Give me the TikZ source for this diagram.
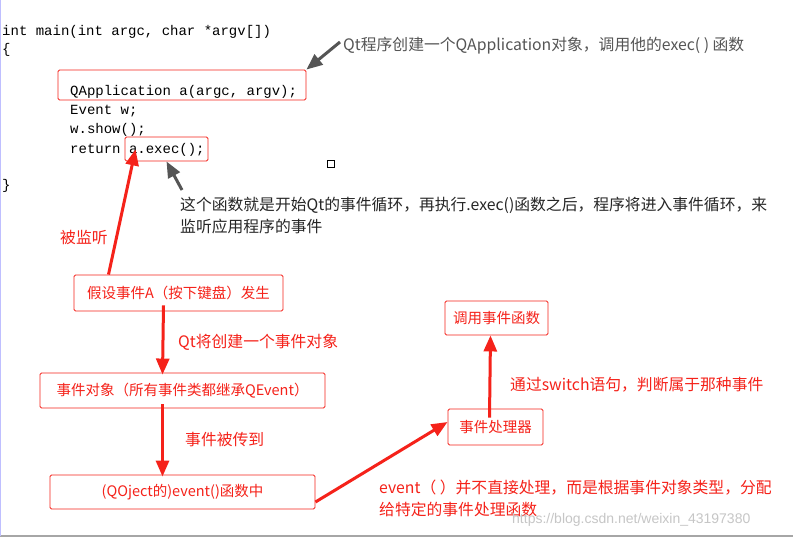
\documentclass[tikz,border=0pt]{standalone}
\usepackage{fontspec}
\setmainfont{Liberation Sans}
\setmonofont{Liberation Mono}
\newfontfamily\cjk{Noto Sans CJK SC}
\usetikzlibrary{arrows.meta}
\definecolor{rd}{HTML}{F5221A}
\definecolor{gr}{HTML}{555555}
\begin{document}
\begin{tikzpicture}[x=1pt,y=-1pt,
  code/.style={anchor=west,inner sep=0,font=\ttfamily\fontsize{14}{16}\selectfont},
  note/.style={anchor=west,inner sep=0,font=\cjk\fontsize{15.8}{22}\selectfont,align=left},
  rbox/.style={draw=rd,rounded corners=1.5pt,line width=0.9pt,text=rd,font=\cjk\fontsize{14.5}{17}\selectfont,inner sep=0},
  cbox/.style={draw=rd,rounded corners=1.5pt,line width=0.9pt},
  rarr/.style={draw=rd,line width=3pt,-{Triangle[width=13pt,length=16pt]}},
  garr/.style={draw=gr,line width=3pt,-{Triangle[width=13pt,length=16pt]}}]
\useasboundingbox (0,0) rectangle (793,538);
\fill[white] (0,0) rectangle (793,538);
\draw[gray!70,line width=1.5pt] (0,536) -- (793,536);
\draw[blue!25,line width=1pt] (0.5,0) -- (0.5,536);
% code
\node[code] (l1) at (2,32) {int main(int argc, char *argv[])};
\node[code] (l2) at (2,50) {\{};
\node[code] (l3) at (70,92) {QApplication a(argc, argv);};
\node[code] (l4) at (70,111) {Event w;};
\node[code] (l5) at (70,130) {w.show();};
\node[code] (l6) at (70,150) {return a.exec();};
\node[code] (l7) at (2,186) {\}};
\node[cbox,minimum width=248,minimum height=30] (qa) at (182,85) {};
\node[cbox,minimum width=83,minimum height=24] (ex) at (166.5,149) {};
\node[draw,line width=0.8pt,minimum size=7,inner sep=0] (sq) at (330.5,163.5) {};
% grey notes
\node[note,text=gr] (n1) at (343,46) {Qt程序创建一个QApplication对象，调用他的exec( ) 函数};
\node[note,text=black!85] (n2) at (180,216) {这个函数就是开始Qt的事件循环，再执行.exec()函数之后，程序将进入事件循环，来\\监听应用程序的事件};
\coordinate (g1) at (340,42);
\coordinate (g2) at (182,190);
\draw[garr] (g1) -- (qa.north east);
\draw[garr] (g2) -- (ex.south);
% boxes
\node[rbox,minimum width=209,minimum height=36] (b1) at (178.5,293) {假设事件A（按下键盘）发生};
\node[rbox,minimum width=285,minimum height=35] (b2) at (182.5,390.5) {事件对象（所有事件类都继承QEvent）};
\node[rbox,minimum width=265,minimum height=34] (b3) at (182.5,492) {(QOject的)event()函数中};
\node[rbox,minimum width=95,minimum height=36] (b4) at (495.5,427) {事件处理器};
\node[rbox,minimum width=103,minimum height=34] (b5) at (496.5,318) {调用事件函数};
% red labels
\node[note,text=rd] (t1) at (60,237) {被监听};
\node[note,text=rd] (t2) at (178,342) {Qt将创建一个事件对象};
\node[note,text=rd] (t3) at (185,440) {事件被传到};
\node[note,text=rd] (t4) at (510,385) {通过switch语句，判断属于那种事件};
\node[note,text=rd] (t5) at (379,498) {event（ ）并不直接处理，而是根据事件对象类型，分配\\给特定的事件处理函数};
\node[anchor=west,inner sep=0,text=gray!45,font=\fontsize{14}{16}\selectfont] (wm) at (512,520) {https://blog.csdn.net/weixin\_43197380};
% red arrows
\draw[rarr] ([xshift=-70]b1.north) -- ([xshift=-31,yshift=12]ex.south);
\draw[rarr] ([xshift=-15,yshift=6]b1.south) -- ([xshift=-20,yshift=-2]b2.north);
\draw[rarr] ([xshift=-20,yshift=4]b2.south) -- ([xshift=-20,yshift=-2]b3.north);
\draw[rarr] ([yshift=-10]b3.east) -- ([yshift=5]b4.west);
\draw[rarr] ([xshift=-6,yshift=-9]b4.north) -- ([xshift=-6,yshift=0]b5.south);
\end{tikzpicture}
\end{document}
